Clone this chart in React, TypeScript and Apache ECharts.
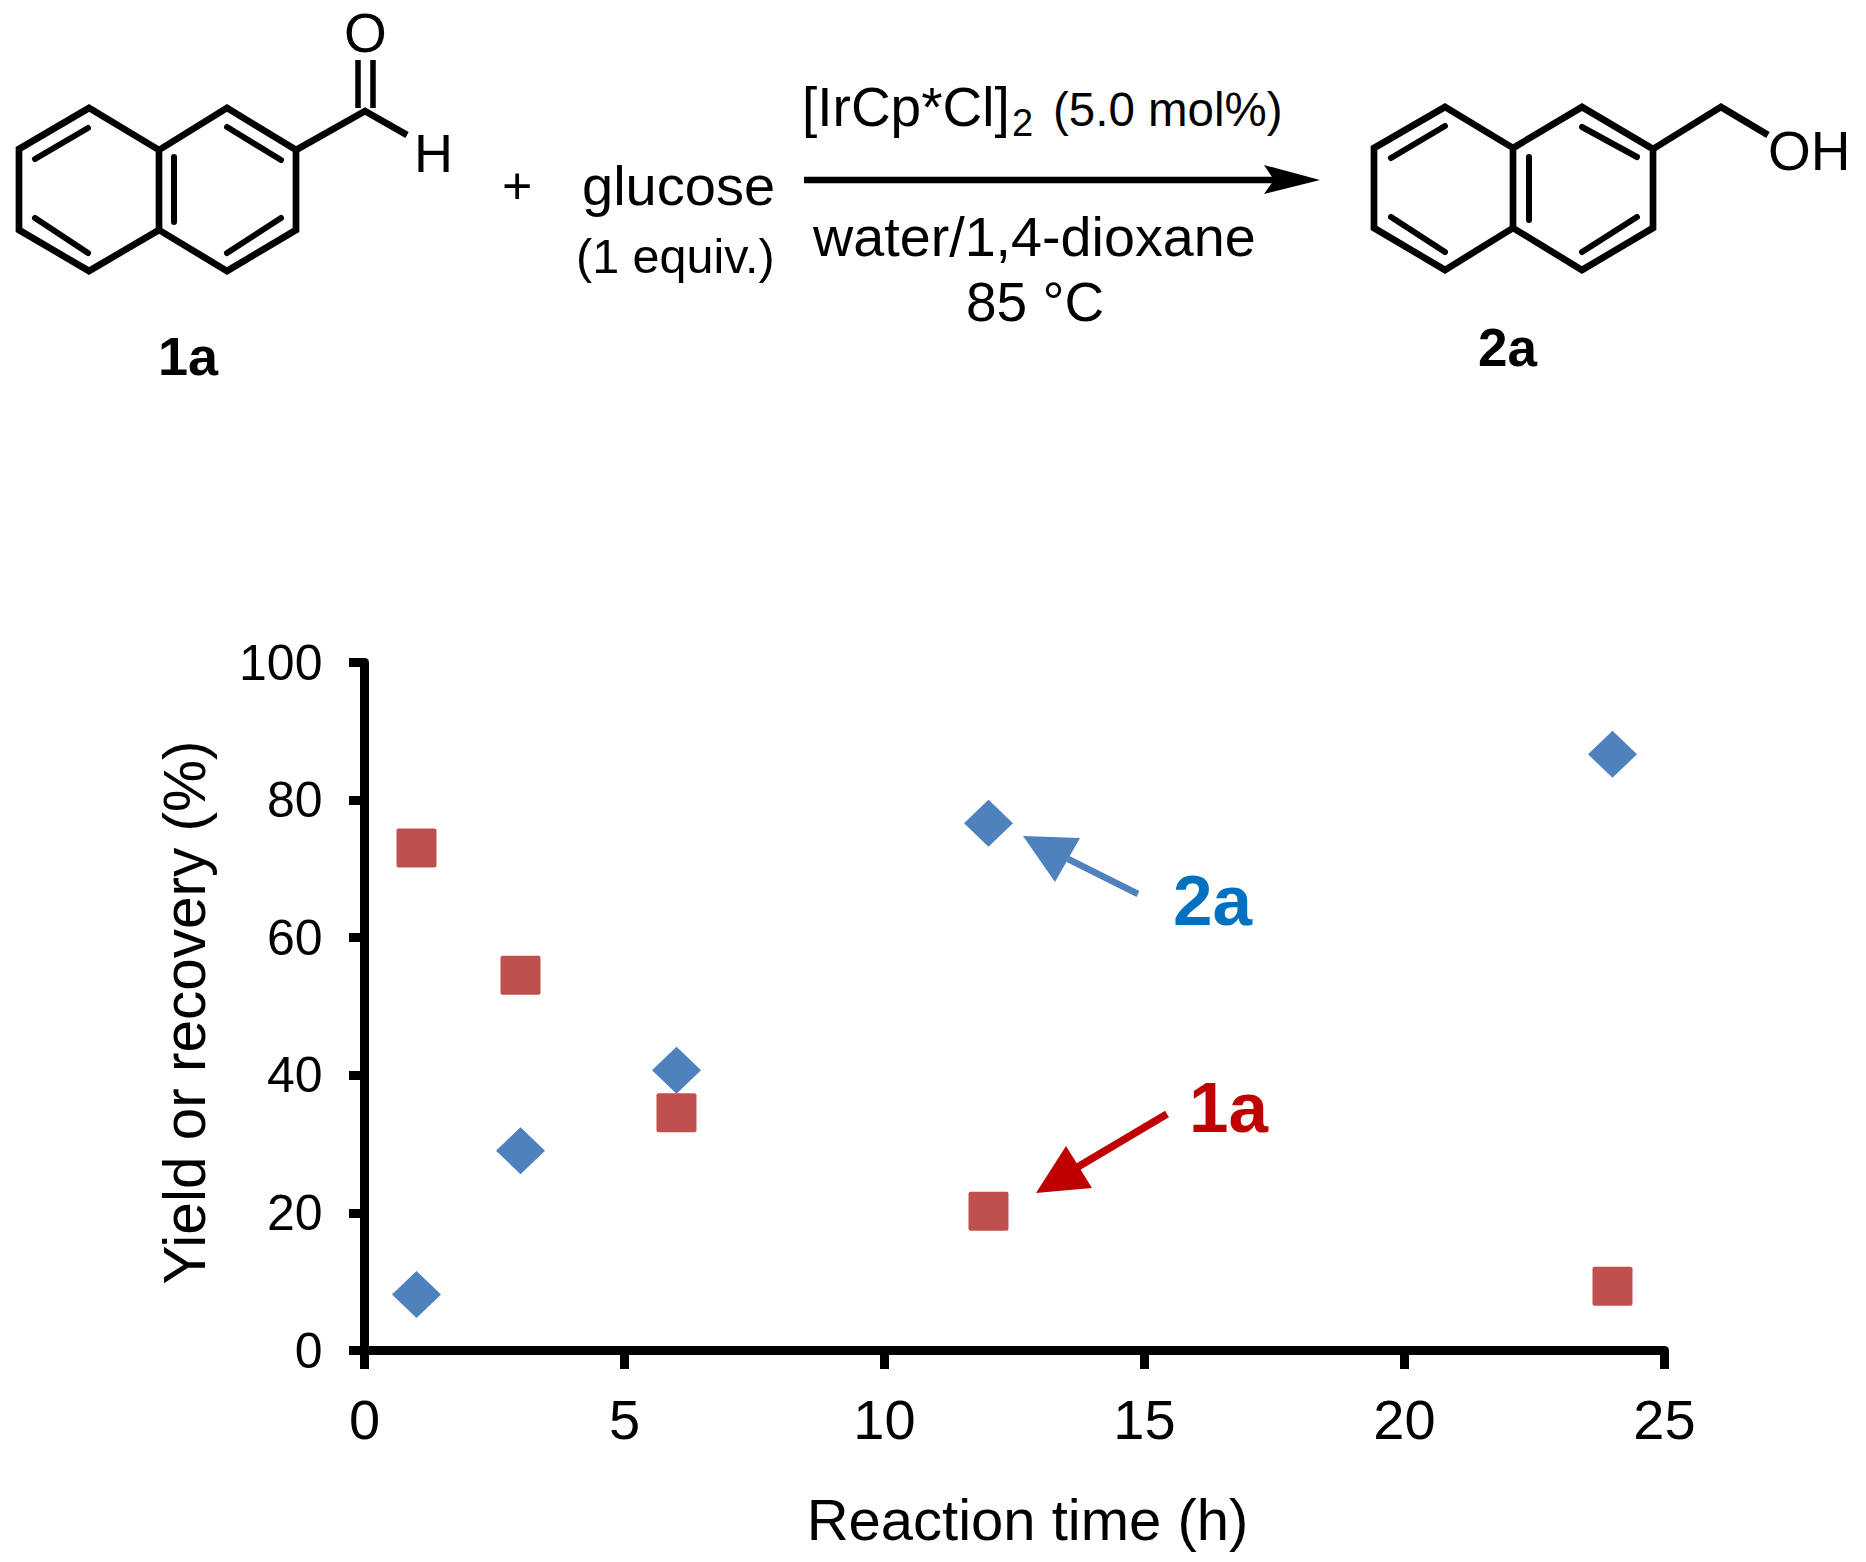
import React, { useEffect, useRef } from "react";
import * as echarts from "echarts";

const times = [1, 3, 6, 12, 24];
const yield2a = [8.15, 29.05, 40.75, 76.65, 86.65];
const recovery1a = [73.05, 54.55, 34.55, 20.25, 9.35];

const FONT = '"Liberation Sans", Arial, sans-serif';
const BLACK = "#000000";
const SQUARE = "path://M2 0H38Q40 0 40 2V38Q40 40 38 40H2Q0 40 0 38V2Q0 0 2 0Z";

type P = number[];
const line = (points: P[], lineWidth = 6.7, stroke = BLACK, lineCap = "butt") => ({
  type: "polyline",
  shape: { points },
  style: { stroke, lineWidth, fill: "none", lineJoin: "miter", lineCap },
  silent: true,
});
const inner = (seg: P[]) => line(seg, 6, BLACK, "round");
const poly = (points: P[], fill: string) => ({
  type: "polygon",
  shape: { points },
  style: { fill },
  silent: true,
});
const label = (text: string, x: number, baseline: number, size: number, fill = BLACK, weight = "normal") => ({
  type: "text",
  silent: true,
  style: {
    text,
    x,
    y: baseline - 0.3465 * size,
    fill,
    font: `${weight} ${size}px ${FONT}`,
    align: "left",
    verticalAlign: "middle",
  },
});

const naphthalene = (v: P[], bonds: P[][]) => [
  line([v[5], v[0], v[1], v[2], v[3], v[4], v[5], v[6], v[7], v[8], v[9], v[4]]),
  ...bonds.map(inner),
];

const graphics = [
  ...naphthalene(
    [[89, 108], [19, 149], [19, 230], [89, 271], [159, 230], [159, 150], [227, 108], [296, 150], [296, 230], [227, 271]],
    [
      [[88, 128], [35, 159]],
      [[35, 218], [88, 253]],
      [[174, 157], [174, 222]],
      [[227, 127], [281, 160]],
      [[281, 218], [227, 253]],
    ],
  ),
  line([[296, 150], [365, 111], [407, 135]]),
  line([[358, 60], [358, 108]], 5.5),
  line([[373, 60], [373, 108]], 5.5),
  label("O", 344, 52, 55),
  label("H", 414, 172, 54),
  label("+", 502, 204, 52),
  label("glucose", 582, 205, 56),
  label("(1 equiv.)", 576, 273, 48.5),
  label("1a", 158, 375, 54, BLACK, "bold"),

  label("[IrCp*Cl]", 802, 126, 55),
  label("2", 1012, 136, 38),
  label("(5.0 mol%)", 1053, 126, 47.5),
  line([[804, 180], [1275, 180]], 6.5),
  poly([[1320, 180], [1264, 165], [1274, 180], [1264, 194]], BLACK),
  label("water/1,4-dioxane", 813, 256, 55.7),
  label("85 °C", 966, 321, 55),

  ...naphthalene(
    [[1445, 107], [1374, 148], [1374, 228], [1445, 270], [1513, 228], [1513, 148], [1582, 107], [1653, 149], [1653, 228], [1582, 270]],
    [
      [[1445, 126], [1391, 158]],
      [[1391, 217], [1445, 252]],
      [[1529, 157], [1529, 220]],
      [[1582, 127], [1637, 157]],
      [[1637, 217], [1582, 252]],
    ],
  ),
  line([[1653, 149], [1721, 107], [1768, 135]]),
  label("OH", 1768, 170, 55),
  label("2a", 1478, 366, 53, BLACK, "bold"),

  line([[1138, 894], [1068, 859]], 6.5, "#4F81BD"),
  poly([[1023, 836], [1080, 838], [1055, 882]], "#4F81BD"),
  label("2a", 1173, 925, 71, "#0070C0", "bold"),
  line([[1167, 1114], [1076, 1168]], 7.5, "#C00000"),
  poly([[1036, 1193], [1066, 1146], [1092, 1188]], "#C00000"),
  label("1a", 1189, 1132, 71, "#C00000", "bold"),
];

export default function App() {
  const ref = useRef<HTMLDivElement>(null);
  useEffect(() => {
    const chart = echarts.init(ref.current!, undefined, { renderer: "svg" });
    chart.setOption({
      animation: false,
      backgroundColor: "#ffffff",
      grid: { left: 364.5, top: 662.5, width: 1300, height: 688 },
      xAxis: {
        type: "value",
        min: 0,
        max: 25,
        interval: 5,
        name: "Reaction time (h)",
        nameLocation: "middle",
        nameGap: 140,
        nameTextStyle: { fontFamily: FONT, fontSize: 58, color: BLACK, padding: [0, 0, 0, 26] },
        splitLine: { show: false },
        axisLine: { onZero: false, lineStyle: { color: BLACK, width: 9 } },
        axisTick: { length: 18.5, lineStyle: { color: BLACK, width: 9 } },
        axisLabel: { margin: 41, fontFamily: FONT, fontSize: 56, color: BLACK },
      },
      yAxis: {
        type: "value",
        min: 0,
        max: 100,
        interval: 20,
        name: "Yield or recovery (%)",
        nameLocation: "middle",
        nameGap: 151,
        nameTextStyle: { fontFamily: FONT, fontSize: 58.5, color: BLACK, padding: [0, 12, 0, 0] },
        splitLine: { show: false },
        axisLine: { onZero: false, lineStyle: { color: BLACK, width: 9 } },
        axisTick: { length: 15.5, lineStyle: { color: BLACK, width: 9 } },
        axisLabel: { margin: 42, fontFamily: FONT, fontSize: 50, color: BLACK },
      },
      series: [
        {
          name: "2a",
          type: "scatter",
          symbol: "diamond",
          symbolSize: [49, 47],
          itemStyle: { color: "#4F81BD", opacity: 1 },
          data: times.map((t, i) => [t, yield2a[i]]),
        },
        {
          name: "1a",
          type: "scatter",
          symbol: SQUARE,
          symbolSize: [40, 39],
          itemStyle: { color: "#C0504D", opacity: 1 },
          data: times.map((t, i) => [t, recovery1a[i]]),
        },
      ],
      graphic: { elements: graphics },
    });
    return () => chart.dispose();
  }, []);
  return <div ref={ref} style={{ position: "absolute", left: 0, top: 0, width: 1866, height: 1562 }} />;
}
